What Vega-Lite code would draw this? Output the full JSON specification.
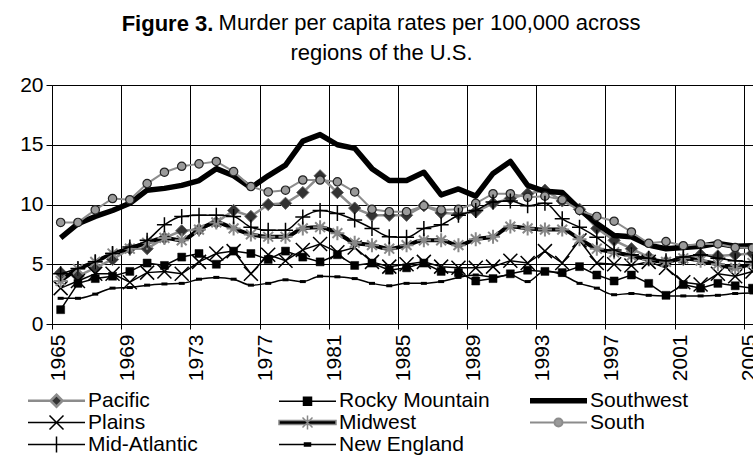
{
  "$schema": "https://vega.github.io/schema/vega-lite/v6.json",
  "width": 701,
  "height": 239,
  "autosize": {"type": "none"},
  "padding": {"left": 52, "top": 85, "right": 0, "bottom": 131},
  "background": "white",
  "title": {
    "text": "Murder per capita rates per 100,000 across",
    "subtitle": "regions of the U.S.",
    "font": "Liberation Sans",
    "fontSize": 22,
    "fontWeight": "normal",
    "color": "black",
    "subtitleFont": "Liberation Sans",
    "subtitleFontSize": 22,
    "subtitleFontWeight": "normal",
    "subtitleColor": "black",
    "subtitlePadding": 8,
    "anchor": "middle",
    "frame": "group",
    "dx": -21,
    "dy": 62.5,
    "encoding": {"dx": {"value": 27}},
    "offset": 10
  },
  "config": {
    "view": {"stroke": null},
    "font": "Liberation Sans",
    "axis": {
      "labelFont": "Liberation Sans",
      "labelFontSize": 21,
      "labelColor": "black",
      "domainColor": "black",
      "tickColor": "black",
      "gridColor": "black",
      "gridOpacity": 1,
      "gridWidth": 1,
      "domainWidth": 1,
      "tickWidth": 1,
      "labelOverlap": false,
      "labelFlush": false,
      "labelBound": false
    },
    "legend": {
      "orient": "none",
      "legendX": -24,
      "legendY": 305,
      "columns": 3,
      "symbolSize": 16,
      "labelFont": "Liberation Sans",
      "labelFontSize": 21,
      "labelColor": "black",
      "labelLimit": 300,
      "labelOffset": 39,
      "columnPadding": 29,
      "rowPadding": -11,
      "gridAlign": "all",
      "padding": 0
    }
  },
  "data": {
    "values": [
      {"year": 1965, "Pacific": 4.3, "Rocky Mountain": 1.2, "Southwest": 7.2, "Plains": 3.0, "Midwest": 3.6, "South": 8.5, "Mid-Atlantic": 4.2, "New England": 2.15},
      {"year": 1966, "Pacific": 4.0, "Rocky Mountain": 3.4, "Southwest": 8.4, "Plains": 3.6, "Midwest": 4.6, "South": 8.5, "Mid-Atlantic": 4.65, "New England": 2.15},
      {"year": 1967, "Pacific": 4.7, "Rocky Mountain": 3.8, "Southwest": 9.0, "Plains": 4.2, "Midwest": 5.2, "South": 9.55, "Mid-Atlantic": 5.2, "New England": 2.5},
      {"year": 1968, "Pacific": 5.4, "Rocky Mountain": 4.0, "Southwest": 9.5, "Plains": 4.2, "Midwest": 5.9, "South": 10.5, "Mid-Atlantic": 5.9, "New England": 3.0},
      {"year": 1969, "Pacific": 6.3, "Rocky Mountain": 4.4, "Southwest": 10.1, "Plains": 3.5, "Midwest": 6.3, "South": 10.4, "Mid-Atlantic": 6.45, "New England": 3.05},
      {"year": 1970, "Pacific": 6.3, "Rocky Mountain": 5.1, "Southwest": 11.2, "Plains": 4.3, "Midwest": 6.8, "South": 11.75, "Mid-Atlantic": 7.0, "New England": 3.25},
      {"year": 1971, "Pacific": 7.2, "Rocky Mountain": 4.9, "Southwest": 11.35, "Plains": 4.4, "Midwest": 7.2, "South": 12.7, "Mid-Atlantic": 8.3, "New England": 3.35},
      {"year": 1972, "Pacific": 7.8, "Rocky Mountain": 5.6, "Southwest": 11.6, "Plains": 4.2, "Midwest": 7.0, "South": 13.2, "Mid-Atlantic": 9.0, "New England": 3.4},
      {"year": 1973, "Pacific": 7.9, "Rocky Mountain": 5.9, "Southwest": 12.0, "Plains": 5.2, "Midwest": 7.9, "South": 13.4, "Mid-Atlantic": 9.1, "New England": 3.75},
      {"year": 1974, "Pacific": 8.5, "Rocky Mountain": 5.0, "Southwest": 13.0, "Plains": 5.9, "Midwest": 8.5, "South": 13.6, "Mid-Atlantic": 9.1, "New England": 3.9},
      {"year": 1975, "Pacific": 9.5, "Rocky Mountain": 6.1, "Southwest": 12.4, "Plains": 6.1, "Midwest": 8.0, "South": 12.75, "Mid-Atlantic": 9.0, "New England": 3.75},
      {"year": 1976, "Pacific": 9.0, "Rocky Mountain": 5.9, "Southwest": 11.4, "Plains": 4.2, "Midwest": 7.5, "South": 11.5, "Mid-Atlantic": 8.1, "New England": 3.25},
      {"year": 1977, "Pacific": 10.0, "Rocky Mountain": 5.4, "Southwest": 12.4, "Plains": 5.8, "Midwest": 7.3, "South": 11.05, "Mid-Atlantic": 7.85, "New England": 3.4},
      {"year": 1978, "Pacific": 10.1, "Rocky Mountain": 6.1, "Southwest": 13.3, "Plains": 5.3, "Midwest": 7.3, "South": 11.2, "Mid-Atlantic": 7.85, "New England": 3.7},
      {"year": 1979, "Pacific": 11.0, "Rocky Mountain": 5.6, "Southwest": 15.3, "Plains": 6.2, "Midwest": 8.0, "South": 12.05, "Mid-Atlantic": 8.95, "New England": 3.55},
      {"year": 1980, "Pacific": 12.4, "Rocky Mountain": 5.2, "Southwest": 15.85, "Plains": 6.7, "Midwest": 8.1, "South": 12.05, "Mid-Atlantic": 9.5, "New England": 4.0},
      {"year": 1981, "Pacific": 11.0, "Rocky Mountain": 5.8, "Southwest": 15.0, "Plains": 6.0, "Midwest": 7.6, "South": 11.9, "Mid-Atlantic": 9.25, "New England": 3.95},
      {"year": 1982, "Pacific": 9.7, "Rocky Mountain": 4.9, "Southwest": 14.7, "Plains": 6.4, "Midwest": 6.8, "South": 11.05, "Mid-Atlantic": 8.7, "New England": 3.8},
      {"year": 1983, "Pacific": 9.1, "Rocky Mountain": 5.1, "Southwest": 13.0, "Plains": 5.2, "Midwest": 6.6, "South": 9.6, "Mid-Atlantic": 8.0, "New England": 3.4},
      {"year": 1984, "Pacific": 9.1, "Rocky Mountain": 4.5, "Southwest": 12.0, "Plains": 4.8, "Midwest": 6.3, "South": 9.4, "Mid-Atlantic": 7.3, "New England": 3.2},
      {"year": 1985, "Pacific": 9.1, "Rocky Mountain": 4.7, "Southwest": 12.0, "Plains": 5.0, "Midwest": 6.6, "South": 9.4, "Mid-Atlantic": 7.25, "New England": 3.4},
      {"year": 1986, "Pacific": 9.9, "Rocky Mountain": 5.1, "Southwest": 12.7, "Plains": 5.2, "Midwest": 7.0, "South": 9.9, "Mid-Atlantic": 8.0, "New England": 3.4},
      {"year": 1987, "Pacific": 9.3, "Rocky Mountain": 4.4, "Southwest": 10.8, "Plains": 4.8, "Midwest": 7.0, "South": 9.55, "Mid-Atlantic": 8.3, "New England": 3.55},
      {"year": 1988, "Pacific": 9.2, "Rocky Mountain": 4.3, "Southwest": 11.3, "Plains": 4.7, "Midwest": 6.6, "South": 9.6, "Mid-Atlantic": 9.1, "New England": 3.9},
      {"year": 1989, "Pacific": 9.4, "Rocky Mountain": 3.6, "Southwest": 10.7, "Plains": 4.7, "Midwest": 7.1, "South": 10.1, "Mid-Atlantic": 9.5, "New England": 4.1},
      {"year": 1990, "Pacific": 10.1, "Rocky Mountain": 3.8, "Southwest": 12.6, "Plains": 4.8, "Midwest": 7.3, "South": 10.9, "Mid-Atlantic": 10.2, "New England": 3.95},
      {"year": 1991, "Pacific": 10.5, "Rocky Mountain": 4.2, "Southwest": 13.6, "Plains": 5.3, "Midwest": 8.15, "South": 10.9, "Mid-Atlantic": 10.3, "New England": 4.1},
      {"year": 1992, "Pacific": 10.9, "Rocky Mountain": 4.5, "Southwest": 11.6, "Plains": 5.1, "Midwest": 8.0, "South": 10.6, "Mid-Atlantic": 9.9, "New England": 3.55},
      {"year": 1993, "Pacific": 11.2, "Rocky Mountain": 4.4, "Southwest": 11.1, "Plains": 6.1, "Midwest": 7.9, "South": 10.7, "Mid-Atlantic": 10.1, "New England": 4.45},
      {"year": 1994, "Pacific": 10.3, "Rocky Mountain": 4.3, "Southwest": 11.0, "Plains": 5.1, "Midwest": 7.9, "South": 10.4, "Mid-Atlantic": 8.8, "New England": 4.1},
      {"year": 1995, "Pacific": 9.6, "Rocky Mountain": 4.8, "Southwest": 9.6, "Plains": 7.0, "Midwest": 7.1, "South": 9.5, "Mid-Atlantic": 8.1, "New England": 3.4},
      {"year": 1996, "Pacific": 8.0, "Rocky Mountain": 4.1, "Southwest": 8.4, "Plains": 5.1, "Midwest": 6.3, "South": 9.0, "Mid-Atlantic": 7.25, "New England": 3.0},
      {"year": 1997, "Pacific": 7.0, "Rocky Mountain": 3.6, "Southwest": 7.4, "Plains": 5.0, "Midwest": 6.0, "South": 8.6, "Mid-Atlantic": 6.2, "New England": 2.45},
      {"year": 1998, "Pacific": 6.3, "Rocky Mountain": 4.1, "Southwest": 7.3, "Plains": 4.9, "Midwest": 5.7, "South": 7.7, "Mid-Atlantic": 5.8, "New England": 2.55},
      {"year": 1999, "Pacific": 5.6, "Rocky Mountain": 3.4, "Southwest": 6.6, "Plains": 5.2, "Midwest": 5.4, "South": 6.75, "Mid-Atlantic": 5.5, "New England": 2.4},
      {"year": 2000, "Pacific": 5.2, "Rocky Mountain": 2.4, "Southwest": 6.3, "Plains": 4.7, "Midwest": 5.2, "South": 6.9, "Mid-Atlantic": 5.3, "New England": 2.35},
      {"year": 2001, "Pacific": 5.4, "Rocky Mountain": 3.3, "Southwest": 6.4, "Plains": 3.5, "Midwest": 5.5, "South": 6.55, "Mid-Atlantic": 5.6, "New England": 2.35},
      {"year": 2002, "Pacific": 5.8, "Rocky Mountain": 3.0, "Southwest": 6.5, "Plains": 3.3, "Midwest": 5.3, "South": 6.7, "Mid-Atlantic": 5.8, "New England": 2.35},
      {"year": 2003, "Pacific": 5.7, "Rocky Mountain": 3.4, "Southwest": 6.75, "Plains": 4.2, "Midwest": 5.0, "South": 6.7, "Mid-Atlantic": 5.5, "New England": 2.4},
      {"year": 2004, "Pacific": 5.8, "Rocky Mountain": 3.2, "Southwest": 6.5, "Plains": 4.0, "Midwest": 4.7, "South": 6.4, "Mid-Atlantic": 5.3, "New England": 2.55},
      {"year": 2005, "Pacific": 5.9, "Rocky Mountain": 3.0, "Southwest": 6.55, "Plains": 4.4, "Midwest": 5.1, "South": 6.35, "Mid-Atlantic": 5.2, "New England": 2.6}
    ]
  },
  "transform": [
    {"fold": ["Pacific", "Rocky Mountain", "Southwest", "Plains", "Midwest", "South", "Mid-Atlantic", "New England"], "as": ["region", "rate"]}
  ],
  "encoding": {
    "x": {
      "field": "year",
      "type": "quantitative",
      "scale": {"domain": [1964.5, 2005.03], "nice": false, "zero": false},
      "axis": {
        "title": null,
        "values": [1964.5, 1968.5, 1972.5, 1976.5, 1980.5, 1984.5, 1988.5, 1992.5, 1996.5, 2000.5, 2004.5],
        "labelExpr": "format(datum.value + 0.5, 'd')",
        "labelAngle": -90,
        "labelOffset": 6,
        "labelPadding": 5,
        "tickSize": 5,
        "grid": true
      }
    },
    "y": {
      "field": "rate",
      "type": "quantitative",
      "scale": {"domain": [0, 20], "nice": false},
      "axis": {
        "title": "Figure 3.",
        "titleFont": "Liberation Sans",
        "titleFontSize": 22,
        "titleFontWeight": "bold",
        "titleColor": "black",
        "titleAngle": 0,
        "titleAlign": "center",
        "titleBaseline": "middle",
        "titleX": 115,
        "titleY": -62,
        "values": [0, 5, 10, 15, 20],
        "labelPadding": 3,
        "tickSize": 6,
        "grid": true
      }
    }
  },
  "layer": [
    {"transform": [{"filter": "datum.region === 'Pacific'"}], "mark": {"type": "line", "stroke": "#8c8c8c", "strokeWidth": 2.5}},
    {"transform": [{"filter": "datum.region === 'Pacific'"}], "mark": {"type": "point", "shape": "diamond", "filled": true, "fill": "#333333", "stroke": "#666666", "strokeWidth": 1, "size": 150, "opacity": 1}},
    {"transform": [{"filter": "datum.region === 'Rocky Mountain'"}], "mark": {"type": "line", "stroke": "black", "strokeWidth": 1.5}},
    {"transform": [{"filter": "datum.region === 'Rocky Mountain'"}], "mark": {"type": "point", "shape": "square", "filled": true, "fill": "black", "stroke": "black", "strokeWidth": 0.5, "size": 64, "opacity": 1}},
    {"transform": [{"filter": "datum.region === 'Southwest'"}], "mark": {"type": "line", "stroke": "black", "strokeWidth": 5.5, "strokeJoin": "round"}},
    {"transform": [{"filter": "datum.region === 'Plains'"}], "mark": {"type": "line", "stroke": "black", "strokeWidth": 1.5}},
    {"transform": [{"filter": "datum.region === 'Plains'"}], "mark": {"type": "point", "shape": "M-1,-1L1,1M-1,1L1,-1", "filled": false, "stroke": "black", "strokeWidth": 1.5, "size": 196, "opacity": 1}},
    {"transform": [{"filter": "datum.region === 'Midwest'"}], "mark": {"type": "line", "stroke": "black", "strokeWidth": 4, "interpolate": "monotone"}},
    {"transform": [{"filter": "datum.region === 'Midwest'"}], "mark": {"type": "point", "shape": "M-1,0H1M0,-1V1M-0.7,-0.7L0.7,0.7M-0.7,0.7L0.7,-0.7", "filled": false, "stroke": "#888888", "strokeWidth": 2, "size": 196, "opacity": 1}},
    {"transform": [{"filter": "datum.region === 'South'"}], "mark": {"type": "line", "stroke": "#8c8c8c", "strokeWidth": 2}},
    {"transform": [{"filter": "datum.region === 'South'"}], "mark": {"type": "point", "shape": "circle", "filled": true, "fill": "#9a9a9a", "stroke": "#222222", "strokeWidth": 1.2, "size": 70, "opacity": 1}},
    {"transform": [{"filter": "datum.region === 'Mid-Atlantic'"}], "mark": {"type": "line", "stroke": "black", "strokeWidth": 1.5, "interpolate": "monotone"}},
    {"transform": [{"filter": "datum.region === 'Mid-Atlantic'"}], "mark": {"type": "point", "shape": "M-1,0H1M0,-1V1", "filled": false, "stroke": "black", "strokeWidth": 1.5, "size": 225, "opacity": 1}},
    {"transform": [{"filter": "datum.region === 'New England'"}], "mark": {"type": "line", "stroke": "black", "strokeWidth": 1.5, "interpolate": "monotone"}},
    {"transform": [{"filter": "datum.region === 'New England'"}], "mark": {"type": "point", "shape": "M-1,-0.5H1V0.5H-1Z", "filled": true, "fill": "black", "strokeWidth": 0, "size": 36, "opacity": 1}},
    {
      "transform": [{"filter": "false"}],
      "mark": {"type": "point", "opacity": 1},
      "encoding": {
        "shape": {
          "field": "region",
          "type": "nominal",
          "scale": {
            "domain": ["Pacific", "Plains", "Mid-Atlantic", "Rocky Mountain", "Midwest", "New England", "Southwest", "South"],
            "range": [
              "M-5.25,0H6M12,0H23.25M9,-3L12,0L9,3L6,0Z",
              "M-5.25,0H23.25M5.5,-3.5L12.5,3.5M5.5,3.5L12.5,-3.5",
              "M-5.25,0H23.25M9,-4V4",
              "M-5.25,0H23.25M7,-2H11V2H7Z",
              "M-5.25,-1H23.25V1H-5.25ZM9,-3.5V3.5M6.5,-2.5L11.5,2.5M6.5,2.5L11.5,-2.5",
              "M-5.25,0H23.25M7.5,-0.75H10.5V0.75H7.5Z",
              "M-5.25,0H23.25",
              "M-5.25,0H7M11,0H23.25M7,0A2,2 0 1,0 11,0A2,2 0 1,0 7,0Z"
            ]
          },
          "legend": {"title": null}
        },
        "fill": {
          "field": "region",
          "type": "nominal",
          "scale": {
            "domain": ["Pacific", "Plains", "Mid-Atlantic", "Rocky Mountain", "Midwest", "New England", "Southwest", "South"],
            "range": ["#333333", "black", "black", "black", "black", "black", "black", "#9a9a9a"]
          }
        },
        "stroke": {
          "field": "region",
          "type": "nominal",
          "scale": {
            "domain": ["Pacific", "Plains", "Mid-Atlantic", "Rocky Mountain", "Midwest", "New England", "Southwest", "South"],
            "range": ["#8c8c8c", "black", "black", "black", "#888888", "black", "black", "#8c8c8c"]
          }
        },
        "strokeWidth": {
          "field": "region",
          "type": "nominal",
          "scale": {
            "type": "ordinal",
            "domain": ["Pacific", "Plains", "Mid-Atlantic", "Rocky Mountain", "Midwest", "New England", "Southwest", "South"],
            "range": [2.5, 1.5, 1.5, 1.5, 1.5, 1.5, 5.5, 2]
          }
        }
      }
    }
  ]
}
